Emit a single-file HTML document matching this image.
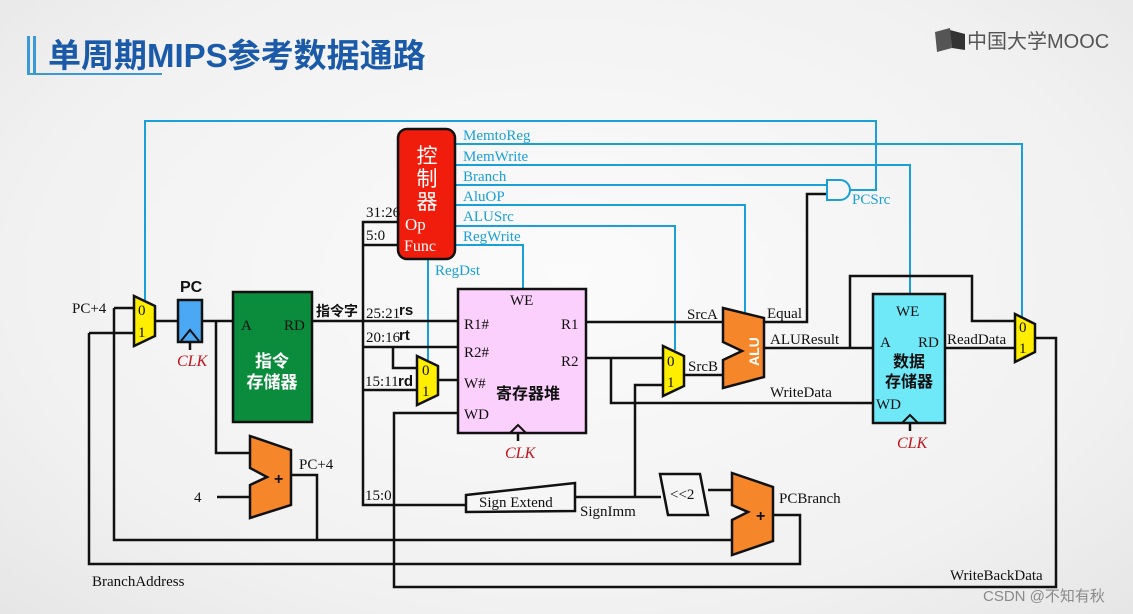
<!DOCTYPE html>
<html><head><meta charset="utf-8"><style>
html,body{margin:0;padding:0;}
body{width:1133px;height:614px;overflow:hidden;background:radial-gradient(ellipse at 50% 45%,#fbfbfb 0%,#f1f1f1 70%,#e6e6e6 100%);}
svg{display:block}
.s{font-family:"Liberation Serif",serif;font-size:15px;fill:#111}
.b{font-family:"Liberation Serif",serif;font-size:15px;fill:#1aa0d8}
.c{font-family:"Liberation Sans","Noto Sans CJK SC",sans-serif;font-weight:bold}
.clk{font-family:"Liberation Serif",serif;font-style:italic;font-size:16px;fill:#c0141c}
</style></head><body>
<svg width="1133" height="614" viewBox="0 0 1133 614" xmlns="http://www.w3.org/2000/svg">
<!-- header -->
<rect x="27" y="36" width="3" height="38" fill="#3a9ad8"/>
<rect x="33" y="36" width="3" height="38" fill="#3a9ad8"/>
<rect x="27" y="73" width="135" height="2" fill="#3a9ad8"/>
<text x="48" y="67" class="c" font-size="33" fill="#1a5aa8">单周期MIPS参考数据通路</text>
<path d="M935 32 L950 28 L952 48 L937 52 Z" fill="#555"/>
<path d="M950 30 L965 34 L965 50 L952 48 Z" fill="#333"/>
<text x="967" y="48" font-family="Liberation Sans,'Noto Sans CJK SC',sans-serif" font-size="20" fill="#555">中国大学MOOC</text>

<!-- blue control lines -->
<g stroke="#1aa0d8" stroke-width="2" fill="none">
<polyline points="145,300 145,121 876,121 876,190 850,190"/>
<polyline points="455,144 1022,144 1022,318"/>
<polyline points="455,165 910,165 910,294"/>
<polyline points="455,185 827,185"/>
<polyline points="455,205 745,205 745,312"/>
<polyline points="455,226 675,226 675,350"/>
<polyline points="455,245 523,245 523,289"/>
<polyline points="428,258 428,360"/>
</g>
<g class="b">
<text x="463" y="140">MemtoReg</text>
<text x="463" y="161">MemWrite</text>
<text x="463" y="181">Branch</text>
<text x="463" y="201">AluOP</text>
<text x="463" y="221">ALUSrc</text>
<text x="463" y="241">RegWrite</text>
<text x="435" y="275">RegDst</text>
<text x="852" y="204">PCSrc</text>
</g>

<!-- black wires -->
<g stroke="#111" stroke-width="2.5" fill="none">
<polyline points="114,308 134,308"/>
<polyline points="114,308 114,540 732,540"/>
<polyline points="291,475 317,475 317,540"/>
<polyline points="89,333 134,333"/>
<polyline points="89,333 89,564 800,564 800,515 773,515"/>
<polyline points="155,321 178,321"/>
<polyline points="202,321 233,321"/>
<polyline points="216,321 216,453 250,453"/>
<polyline points="217,497 250,497"/>
<polyline points="312,321 458,321"/>
<polyline points="398,222 363,222 363,505 466,505"/>
<polyline points="363,245 398,245"/>
<polyline points="363,347 458,347"/>
<polyline points="393,347 393,368 417,368"/>
<polyline points="363,390 417,390"/>
<polyline points="438,380 458,380"/>
<polyline points="458,413 394,413 394,587 1056,587 1056,338 1035,338"/>
<polyline points="586,322 723,322"/>
<polyline points="586,358 663,358"/>
<polyline points="611,358 611,403 873,403"/>
<polyline points="635,497 635,385 663,385"/>
<polyline points="575,497 661,497"/>
<polyline points="708,490 732,490"/>
<polyline points="684,375 723,375"/>
<polyline points="764,322 807,322 807,194 827,194"/>
<polyline points="764,348 873,348"/>
<polyline points="850,348 850,276 972,276 972,321 1015,321"/>
<polyline points="945,348 1015,348"/>
<polyline points="190,342 190,350"/>
<polyline points="518,433 518,441"/>
<polyline points="910,423 910,431"/>
</g>

<!-- control -->
<rect x="398" y="129" width="57" height="130" rx="9" fill="#f01c0c" stroke="#111" stroke-width="2.5"/>
<g font-family="Liberation Sans,'Noto Sans CJK SC',sans-serif" font-size="21" fill="#fff" text-anchor="middle">
<text x="427" y="163">控</text><text x="427" y="186">制</text><text x="427" y="209">器</text>
</g>
<text x="405" y="230" font-family="Liberation Serif,serif" font-size="17" fill="#fff">Op</text>
<text x="404" y="251" font-family="Liberation Serif,serif" font-size="16" fill="#fff">Func</text>

<!-- AND gate -->
<path d="M827 180 L840 180 A10 10 0 0 1 840 200 L827 200 Z" fill="#f6f6f6" stroke="#1aa0d8" stroke-width="2"/>

<!-- PC mux -->
<polygon points="134,296 155,306 155,336 134,346" fill="#ffee00" stroke="#111" stroke-width="2.5"/>
<text x="138" y="315" class="s" font-size="13">0</text><text x="138" y="337" class="s" font-size="13">1</text>
<text x="72" y="313" class="s">PC+4</text>

<!-- PC -->
<text x="180" y="292" class="c" font-size="16" fill="#111">PC</text>
<rect x="178" y="300" width="24" height="42" fill="#4aa8f5" stroke="#111" stroke-width="2.5"/>
<polyline points="181,341 190,330 199,341" fill="none" stroke="#111" stroke-width="2"/>
<text x="177" y="366" class="clk">CLK</text>

<!-- instr mem -->
<rect x="233" y="292" width="79" height="130" fill="#0a8c3c" stroke="#111" stroke-width="2.5"/>
<text x="241" y="330" class="s" font-size="16">A</text>
<text x="284" y="330" class="s" font-size="16">RD</text>
<text x="272" y="367" class="c" font-size="17" fill="#fff" text-anchor="middle">指令</text>
<text x="272" y="388" class="c" font-size="17" fill="#fff" text-anchor="middle">存储器</text>
<text x="316" y="316" class="c" font-size="14" fill="#111">指令字</text>

<!-- bus labels -->
<g class="s" font-size="12">
<text x="366" y="217">31:26</text><text x="366" y="240">5:0</text>
<text x="366" y="318">25:21</text><text x="366" y="342">20:16</text><text x="365" y="386">15:11</text>
<text x="365" y="500">15:0</text>
</g>
<g class="c" font-size="15" fill="#111"><text x="399" y="315">rs</text><text x="399" y="340">rt</text><text x="398" y="386">rd</text></g>

<!-- rd mux -->
<polygon points="417,356 438,366 438,395 417,405" fill="#ffee00" stroke="#111" stroke-width="2.5"/>
<text x="422" y="375" class="s" font-size="13">0</text><text x="422" y="396" class="s" font-size="13">1</text>

<!-- reg file -->
<rect x="458" y="289" width="128" height="144" fill="#fcd0fc" stroke="#111" stroke-width="2.5"/>
<polyline points="510,433 518,425 526,433" fill="none" stroke="#111" stroke-width="2"/>
<g class="s" font-size="16">
<text x="510" y="305">WE</text><text x="464" y="329">R1#</text><text x="464" y="357">R2#</text>
<text x="464" y="388">W#</text><text x="464" y="419">WD</text>
<text x="561" y="329">R1</text><text x="561" y="366">R2</text>
</g>
<text x="496" y="399" class="c" font-size="16" fill="#111">寄存器堆</text>
<text x="505" y="458" class="clk">CLK</text>

<!-- SrcB mux -->
<polygon points="663,346 684,356 684,386 663,396" fill="#ffee00" stroke="#111" stroke-width="2.5"/>
<text x="667" y="366" class="s" font-size="13">0</text><text x="667" y="387" class="s" font-size="13">1</text>
<text x="687" y="319" class="s">SrcA</text>
<text x="688" y="371" class="s">SrcB</text>

<!-- ALU -->
<polygon points="723,308 764,318 764,377 723,388 723,360 742,351 723,342" fill="#f5862a" stroke="#111" stroke-width="2.5"/>
<text x="0" y="0" class="c" font-size="14" fill="#fff" transform="translate(759,366) rotate(-90)">ALU</text>
<text x="767" y="318" class="s">Equal</text>
<text x="770" y="344" class="s">ALUResult</text>
<text x="770" y="397" class="s">WriteData</text>

<!-- data mem -->
<rect x="873" y="294" width="72" height="129" fill="#6fe8f8" stroke="#111" stroke-width="2.5"/>
<polyline points="902,423 910,415 918,423" fill="none" stroke="#111" stroke-width="2"/>
<g class="s" font-size="16">
<text x="896" y="316">WE</text><text x="880" y="347">A</text><text x="918" y="347">RD</text><text x="876" y="409">WD</text>
</g>
<text x="909" y="367" class="c" font-size="16" fill="#111" text-anchor="middle">数据</text>
<text x="909" y="387" class="c" font-size="16" fill="#111" text-anchor="middle">存储器</text>
<text x="897" y="448" class="clk">CLK</text>
<text x="947" y="344" class="s">ReadData</text>

<!-- final mux -->
<polygon points="1015,314 1035,324 1035,352 1015,362" fill="#ffee00" stroke="#111" stroke-width="2.5"/>
<text x="1019" y="332" class="s" font-size="13">0</text><text x="1019" y="353" class="s" font-size="13">1</text>

<!-- PC+4 adder -->
<polygon points="250,436 291,450 291,505 250,518 250,485 267,477 250,468" fill="#f5862a" stroke="#111" stroke-width="2.5"/>
<text x="274" y="484" class="c" font-size="16" fill="#111">+</text>
<text x="299" y="469" class="s">PC+4</text>
<text x="194" y="502" class="s">4</text>

<!-- Sign extend -->
<polygon points="466,495 575,483 575,511 466,512" fill="#f6f6f6" stroke="#111" stroke-width="2.5"/>
<text x="479" y="507" class="s">Sign Extend</text>
<text x="580" y="516" class="s">SignImm</text>

<!-- <<2 -->
<polygon points="660,474 700,474 708,515 668,515" fill="#f6f6f6" stroke="#111" stroke-width="2.5"/>
<text x="670" y="499" class="s">&lt;&lt;2</text>

<!-- PCBranch adder -->
<polygon points="732,473 773,487 773,541 732,555 732,520 748,512 732,505" fill="#f5862a" stroke="#111" stroke-width="2.5"/>
<text x="756" y="521" class="c" font-size="16" fill="#111">+</text>
<text x="779" y="503" class="s">PCBranch</text>

<text x="92" y="586" class="s">BranchAddress</text>
<text x="950" y="580" class="s">WriteBackData</text>
<text x="983" y="601" font-family="Liberation Sans,'Noto Sans CJK SC',sans-serif" font-size="15" fill="#8a8a8a">CSDN @不知有秋</text>
</svg>
</body></html>
